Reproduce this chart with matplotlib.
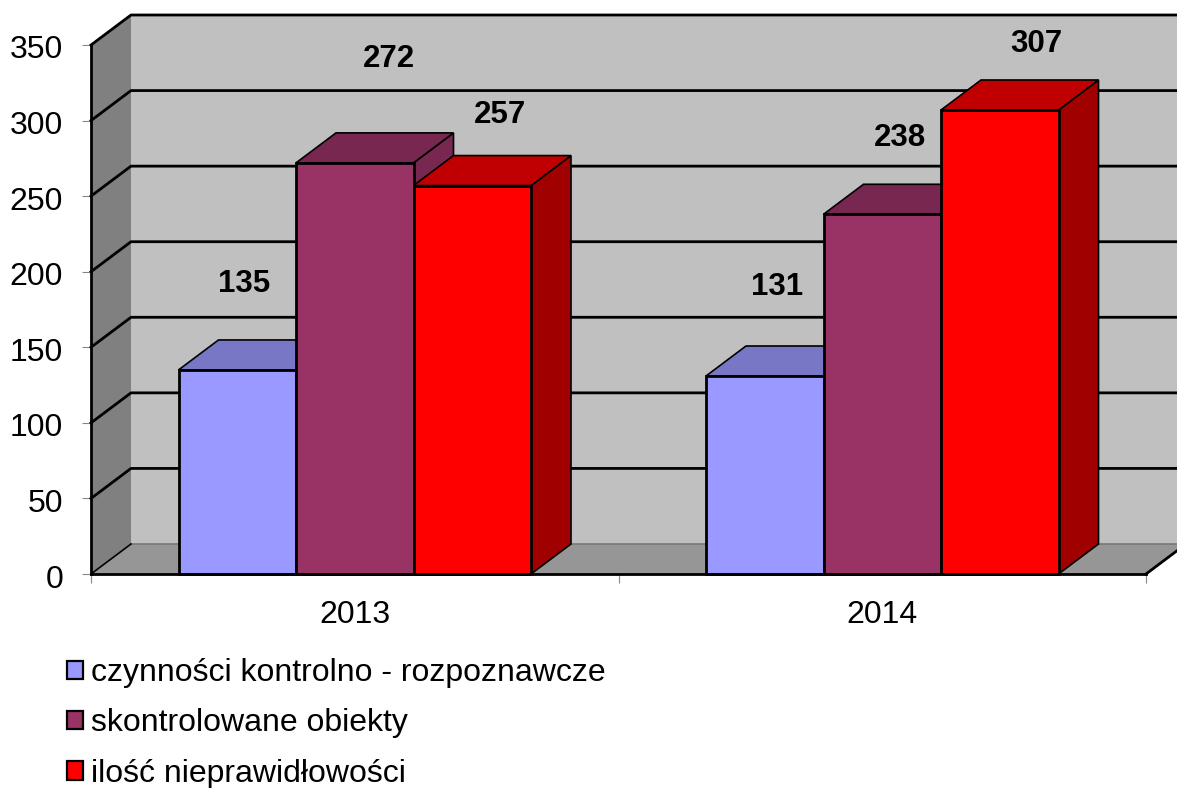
import matplotlib
matplotlib.use('Agg')
import matplotlib.pyplot as plt
from matplotlib.patches import Polygon, Patch
from matplotlib.transforms import ScaledTranslation

years = ['2013', '2014']
series_names = ['czynności kontrolno - rozpoznawcze', 'skontrolowane obiekty', 'ilość nieprawidłowości']
values_kontrole = [135, 131]
values_obiekty = [272, 238]
values_nieprawidlowosci = [257, 307]

front_colors = ['#9999FF', '#993366', '#FF0000']
top_colors = ['#7777C6', '#772750', '#C00000']
side_colors = ['#6B6BB3', '#772750', '#A00000']

# excel left the value labels in odd places, offsets in pixels from the bar top
label_dx = [[7, 12], [34, 18], [27.5, 37]]
label_dy = [[86, 89], [104, 76], [71, 66]]

plt.rcParams['font.family'] = ['Liberation Sans', 'DejaVu Sans']

W, H = 1177, 788
fig = plt.figure(figsize=(W / 100, H / 100), dpi=100)
# axes box is the front plane of the excel style 3d chart
ax = fig.add_axes([91 / W, 1 - 574 / H, 1055 / W, 529 / H])
ax.set_xlim(0, 2)
ax.set_ylim(0, 350)
ax.patch.set_visible(False)

# depth of the chart, in data units
dx = 40 / 527.5
dy = 30 / 1.5114
bar_w = 117.5 / 527.5


def poly(pts, color, z=1, lw=2.0):
    ax.add_patch(Polygon(pts, closed=True, facecolor=color, edgecolor='black' if lw else 'none',
                         linewidth=lw, clip_on=False, zorder=z, joinstyle='miter'))


# walls and floor
poly([(dx, dy), (2 + dx, dy), (2 + dx, 350 + dy), (dx, 350 + dy)], '#C0C0C0', 1, 0)
poly([(0, 0), (dx, dy), (dx, 350 + dy), (0, 350)], '#808080', 1, 0)
poly([(0, 0), (2, 0), (2 + dx, dy), (dx, dy)], '#969696', 1, 0)

for v in range(50, 351, 50):
    ax.plot([0, dx, 2 + dx], [v, v + dy, v + dy], color='black', lw=2.0, clip_on=False, zorder=2)
ax.plot([dx, 2 + dx], [dy, dy], color='#777777', lw=1.2, clip_on=False, zorder=2)
ax.plot([0, dx], [0, dy], color='black', lw=1.2, clip_on=False, zorder=2)
ax.plot([2, 2 + dx], [0, dy], color='black', lw=2.0, clip_on=False, zorder=2)

all_values = [values_kontrole, values_obiekty, values_nieprawidlowosci]
for c in range(len(years)):
    for s, vals in enumerate(all_values):
        x0 = c + 0.5 + (s - 1.5) * bar_w
        x1 = x0 + bar_w
        v = vals[c]
        poly([(x1, 0), (x1 + dx, dy), (x1 + dx, v + dy), (x1, v)], side_colors[s], 3 + s, 1.2)
        poly([(x0, v), (x1, v), (x1 + dx, v + dy), (x0 + dx, v + dy)], top_colors[s], 3 + s, 1.2)
        poly([(x0, 0), (x1, 0), (x1, v), (x0, v)], front_colors[s], 3 + s)
        ax.annotate(str(v), (x0 + bar_w / 2, v),
                    xytext=(label_dx[s][c] * 0.72, label_dy[s][c] * 0.72),
                    textcoords='offset points', ha='center', va='center',
                    fontsize=22.5, fontweight='bold', zorder=10, annotation_clip=False)

for s in ['top', 'right']:
    ax.spines[s].set_visible(False)
for s in ['left', 'bottom']:
    ax.spines[s].set_linewidth(2.0)
    ax.spines[s].set_zorder(9)

ax.set_yticks(range(0, 351, 50))
ax.set_xticks([0, 1, 2])
ax.set_xticklabels([])
ax.set_xticks([0.5, 1.5], years, minor=True)
ax.tick_params(axis='y', labelsize=23, length=6.5, width=0.8, color='#888888', pad=13.5)
ax.tick_params(axis='x', which='major', length=6.5, width=0.8, color='#888888')
ax.tick_params(axis='x', which='minor', labelsize=23, length=0, pad=18.7)
# nudge the value labels down a little, they sit lower than the ticks in the original
nudge = ScaledTranslation(0, -2 / 100, fig.dpi_scale_trans)
for lab in ax.get_yticklabels():
    lab.set_transform(lab.get_transform() + nudge)

handles = [Patch(facecolor=front_colors[i], edgecolor='black', linewidth=1.6, label=series_names[i])
           for i in range(3)]
leg = fig.legend(handles=handles, loc='upper left', bbox_to_anchor=(67 / W, 1 - 658 / H),
                 frameon=False, fontsize=23, handlelength=0.5, handleheight=0.5,
                 handletextpad=0.25, labelspacing=0.64, borderaxespad=0, borderpad=0)

fig.savefig('out.png', dpi=100)
